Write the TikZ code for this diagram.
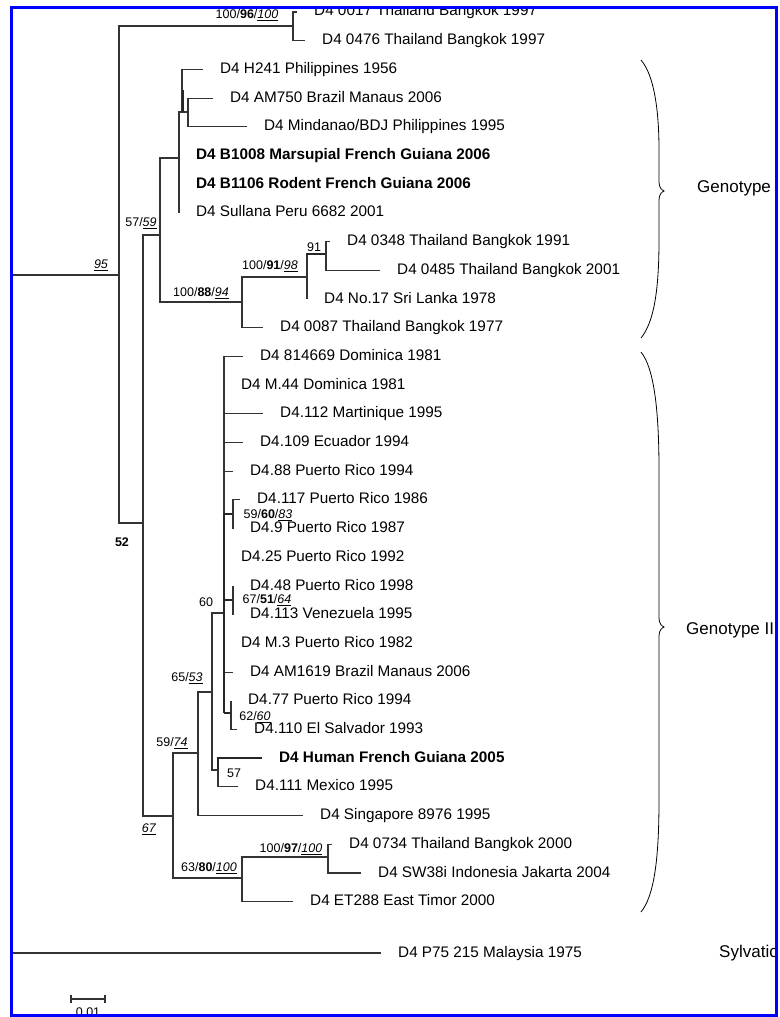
\documentclass[tikz,border=0pt]{standalone}
\usepackage{fontspec}
\setmainfont{Liberation Sans}
\newcommand{\uit}[1]{\underline{\textit{#1}}}
\newcommand{\bsv}[3]{#1/\textbf{#2}/\uit{#3}}

\begin{document}
\begin{tikzpicture}[
  x=1pt, y=-1pt,
  branch/.style={line width=1.1pt, black!80},
  heavy/.style={line width=2.3pt, black!85},
  leaf/.style={anchor=west, inner sep=0pt, xshift=17pt, text height=11pt, text depth=3pt,
               font=\fontsize{15.3}{17}\selectfont},
  bleaf/.style={leaf, font=\fontsize{15.3}{17}\selectfont\bfseries},
  supp/.style={inner sep=0pt, font=\fontsize{12.5}{14}\selectfont},
  grp/.style={anchor=west, inner sep=0pt, font=\fontsize{17}{19}\selectfont},
  brc/.style={line width=0.8pt, black}
]
\useasboundingbox (0,0) rectangle (779,1017);

\begin{scope}
\clip (12.5,8.5) rectangle (774.5,1013.5);

% internal nodes (x, height where the parent joins)
\coordinate (root)  at (12,275);
\coordinate (n95)   at (119,275);
\coordinate (n96)   at (293,26);
\coordinate (n52)   at (143,523);
\coordinate (n59)   at (160,235);
\coordinate (nam)   at (179,158);
\coordinate (nphi)  at (182,112);
\coordinate (nbra)  at (188,112);
\coordinate (n88)   at (242,302);
\coordinate (n98)   at (307,277);
\coordinate (n91)   at (326,254);
\coordinate (n74)   at (173,816);
\coordinate (n53)   at (198,753);
\coordinate (n60)   at (212,692);
\coordinate (ncar)  at (224,613);
\coordinate (n83)   at (233,514);
\coordinate (n64)   at (233,600);
\coordinate (n62)   at (231,713);
\coordinate (n57)   at (218,770);
\coordinate (n80)   at (242,878);
\coordinate (n97)   at (328,857);

% leaf ends
\coordinate (l0017) at (297,12);
\coordinate (l0476) at (305,40.7);
\coordinate (lh241) at (203,69.4);
\coordinate (lam750) at (213,98.1);
\coordinate (lmind) at (247,126.8);
\coordinate (lb1008) at (179,155.5);
\coordinate (lb1106) at (179,184.2);
\coordinate (lsull) at (179,212.9);
\coordinate (l0348) at (330,241.6);
\coordinate (l0485) at (380,270.3);
\coordinate (lno17) at (307,299);
\coordinate (l0087) at (263,327.7);
\coordinate (ldom)  at (243,356.4);
\coordinate (lm44)  at (224,385.1);
\coordinate (lmart) at (263,413.8);
\coordinate (lecu)  at (243,442.5);
\coordinate (lpr88) at (233,471.2);
\coordinate (lpr117) at (240,499.9);
\coordinate (lpr9)  at (233,528.6);
\coordinate (lpr25) at (224,557.3);
\coordinate (lpr48) at (233,586);
\coordinate (lven)  at (233,614.7);
\coordinate (lm3)   at (224,643.4);
\coordinate (lam1619) at (233,672.1);
\coordinate (lpr77) at (231,700.8);
\coordinate (lsal)  at (237,729.5);
\coordinate (lhum)  at (262,758.2);
\coordinate (lmex)  at (238,786.9);
\coordinate (lsing) at (303,815.6);
\coordinate (l0734) at (332,844.3);
\coordinate (lsw38) at (361,873);
\coordinate (let)   at (293,901.7);
\coordinate (lmal)  at (381,953);

% branches
\foreach \c in {n95,lmal} \draw[branch] (root) |- (\c);
\foreach \c in {n96,n52} \draw[branch] (n95) |- (\c);
\foreach \c in {l0017,l0476} \draw[branch] (n96) |- (\c);
\foreach \c in {n59,n74} \draw[branch] (n52) |- (\c);
\foreach \c in {nam,n88} \draw[branch] (n59) |- (\c);
\foreach \c in {nphi,lb1008,lb1106,lsull} \draw[branch] (nam) |- (\c);
\foreach \c in {lh241,nbra} \draw[branch] (nphi) |- (\c);
\foreach \c in {lam750,lmind} \draw[branch] (nbra) |- (\c);
\foreach \c in {n98,l0087} \draw[branch] (n88) |- (\c);
\foreach \c in {n91,lno17} \draw[branch] (n98) |- (\c);
\draw[heavy] (n98 |- n91) -- (n91);
\foreach \c in {l0348,l0485} \draw[branch] (n91) |- (\c);
\foreach \c in {n53,n80} \draw[branch] (n74) |- (\c);
\foreach \c in {n60,lsing} \draw[branch] (n53) |- (\c);
\foreach \c in {ncar,n57} \draw[branch] (n60) |- (\c);
\foreach \c in {ldom,lm44,lmart,lecu,lpr88,lpr25,lm3,lam1619}
  \draw[branch] (ncar) |- (\c);
\draw[heavy] (ncar |- n83) -- (ncar |- n62);
\foreach \c in {n83,n64,n62} \draw[heavy] (ncar |- \c) -- (\c);
\foreach \c in {lpr117,lpr9} \draw[branch] (n83) |- (\c);
\foreach \c in {lpr48,lven} \draw[branch] (n64) |- (\c);
\foreach \c in {lpr77,lsal} \draw[branch] (n62) |- (\c);
\draw[heavy] (n57) |- (lhum);
\draw[branch] (n57) |- (lmex);
\foreach \c in {n97,let} \draw[branch] (n80) |- (\c);
\foreach \c in {l0734,lsw38} \draw[branch] (n97) |- (\c);
\draw[heavy] (183,90) -- (183,112);

% taxa
\node[leaf] (t0017) at (l0017) {D4 0017 Thailand Bangkok 1997};
\node[leaf] (t0476) at (l0476) {D4 0476 Thailand Bangkok 1997};
\node[leaf] (th241) at (lh241) {D4 H241 Philippines 1956};
\node[leaf] (tam750) at (lam750) {D4 AM750 Brazil Manaus 2006};
\node[leaf] (tmind) at (lmind) {D4 Mindanao/BDJ Philippines 1995};
\node[bleaf] (tb1008) at (lb1008) {D4 B1008 Marsupial French Guiana 2006};
\node[bleaf] (tb1106) at (lb1106) {D4 B1106 Rodent French Guiana 2006};
\node[leaf] (tsull) at (lsull) {D4 Sullana Peru 6682 2001};
\node[leaf] (t0348) at (l0348) {D4 0348 Thailand Bangkok 1991};
\node[leaf] (t0485) at (l0485) {D4 0485 Thailand Bangkok 2001};
\node[leaf] (tno17) at (lno17) {D4 No.17 Sri Lanka 1978};
\node[leaf] (t0087) at (l0087) {D4 0087 Thailand Bangkok 1977};
\node[leaf] (tdom) at (ldom) {D4 814669 Dominica 1981};
\node[leaf] (tm44) at (lm44) {D4 M.44 Dominica 1981};
\node[leaf] (tmart) at (lmart) {D4.112 Martinique 1995};
\node[leaf] (tecu) at (lecu) {D4.109 Ecuador 1994};
\node[leaf] (tpr88) at (lpr88) {D4.88 Puerto Rico 1994};
\node[leaf] (tpr117) at (lpr117) {D4.117 Puerto Rico 1986};
\node[leaf] (tpr9) at (lpr9) {D4.9 Puerto Rico 1987};
\node[leaf] (tpr25) at (lpr25) {D4.25 Puerto Rico 1992};
\node[leaf] (tpr48) at (lpr48) {D4.48 Puerto Rico 1998};
\node[leaf] (tven) at (lven) {D4.113 Venezuela 1995};
\node[leaf] (tm3) at (lm3) {D4 M.3 Puerto Rico 1982};
\node[leaf] (tam1619) at (lam1619) {D4 AM1619 Brazil Manaus 2006};
\node[leaf] (tpr77) at (lpr77) {D4.77 Puerto Rico 1994};
\node[leaf] (tsal) at (lsal) {D4.110 El Salvador 1993};
\node[bleaf] (thum) at (lhum) {D4 Human French Guiana 2005};
\node[leaf] (tmex) at (lmex) {D4.111 Mexico 1995};
\node[leaf] (tsing) at (lsing) {D4 Singapore 8976 1995};
\node[leaf] (t0734) at (l0734) {D4 0734 Thailand Bangkok 2000};
\node[leaf] (tsw38) at (lsw38) {D4 SW38i Indonesia Jakarta 2004};
\node[leaf] (tet) at (let) {D4 ET288 East Timor 2000};
\node[leaf] (tmal) at (lmal) {D4 P75 215 Malaysia 1975};

% support values
\node[supp] (s96) at (247,15) {\bsv{100}{96}{100}};
\node[supp] (s95) at (101,265) {\uit{95}};
\node[supp] (s59) at (141,223) {57/\uit{59}};
\node[supp] (s88) at (201,293) {\bsv{100}{88}{94}};
\node[supp] (s98) at (270,266) {\bsv{100}{91}{98}};
\node[supp] (s91) at (314,247) {91};
\node[supp] (s83) at (268,515) {\bsv{59}{60}{83}};
\node[supp] (s52) at (122,542) {\textbf{52}};
\node[supp] (s60) at (206,602) {60};
\node[supp] (s64) at (267,600) {\bsv{67}{51}{64}};
\node[supp] (s53) at (187,678) {65/\uit{53}};
\node[supp] (s62) at (255,717) {62/\uit{60}};
\node[supp] (s74) at (172,743) {59/\uit{74}};
\node[supp] (s57) at (234,773) {57};
\node[supp] (s67) at (149,829) {\uit{67}};
\node[supp] (s80) at (209,868) {\bsv{63}{80}{100}};
\node[supp] (s97) at (291,849) {\bsv{100}{97}{100}};

% genotype braces
\draw[brc] (641,60) .. controls (654,75) and (659,110) .. (659,150) -- (659,182)
  .. controls (659,188) and (662,190) .. (664,191)
  .. controls (662,192) and (659,194) .. (659,200) -- (659,240)
  .. controls (659,290) and (654,322) .. (641,338);
\draw[brc] (641,352) .. controls (654,368) and (659,410) .. (659,470) -- (659,618)
  .. controls (659,624) and (662,626) .. (664,627)
  .. controls (662,628) and (659,630) .. (659,636) -- (659,800)
  .. controls (659,860) and (654,896) .. (641,912);
\node[grp] (gI) at (697,188) {Genotype I};
\node[grp] (gII) at (686,630) {Genotype II};
\node[grp] (gsyl) at (719,953) {Sylvatic};

% scale bar
\coordinate (sb1) at (71,999);
\coordinate (sb2) at (105,999);
\draw[line width=1.5pt, black!80] (sb1) -- (sb2);
\draw[line width=1.5pt, black!80] ([yshift=-4pt]sb1) -- ([yshift=4pt]sb1);
\draw[line width=1.5pt, black!80] ([yshift=-4pt]sb2) -- ([yshift=4pt]sb2);
\node[supp] (sbl) at (88,1012) {0.01};
\end{scope}

\draw[blue, line width=3pt] (11,7) rectangle (776,1015);
\end{tikzpicture}
\end{document}
